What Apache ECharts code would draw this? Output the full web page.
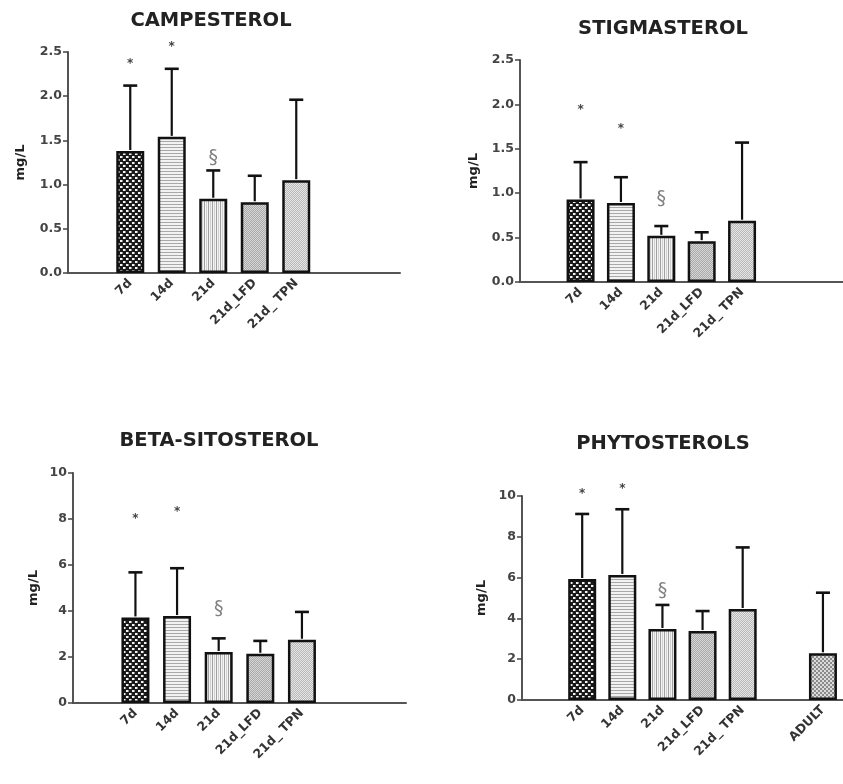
<!DOCTYPE html>
<html><head><meta charset="utf-8">
<script src="https://cdn.jsdelivr.net/npm/echarts@6/dist/echarts.min.js"></script>
<style>html,body{margin:0;padding:0;background:#fff}#c{width:843px;height:784px}</style>
</head><body><div id="c"></div>
<script>
// ---- data ----
const categories = ['', '7d', '14d', '21d', '21d_LFD', '21d_ TPN', '', ''];
const categoriesPhyto = ['', '7d', '14d', '21d', '21d_LFD', '21d_ TPN', '', 'ADULT'];
const titles = ['CAMPESTEROL', 'STIGMASTEROL', 'BETA-SITOSTEROL', 'PHYTOSTEROLS'];
const yName = 'mg/L';

const campMean = [null, 1.38, 1.54, 0.84, 0.80, 1.05, null, null];
const campErr  = [null, 2.12, 2.31, 1.16, 1.10, 1.96, null, null];
const campStar = [null, 2.37, 2.56, null, null, null, null, null];
const campSect = [null, null, null, 1.30, null, null, null, null];

const stigMean = [null, 0.93, 0.89, 0.52, 0.46, 0.69, null, null];
const stigErr  = [null, 1.35, 1.18, 0.63, 0.56, 1.57, null, null];
const stigStar = [null, 1.94, 1.72, null, null, null, null, null];
const stigSect = [null, null, null, 0.93, null, null, null, null];

const betaMean = [null, 3.72, 3.78, 2.22, 2.14, 2.75, null, null];
const betaErr  = [null, 5.68, 5.86, 2.81, 2.70, 3.96, null, null];
const betaStar = [null, 8.0, 8.3, null, null, null, null, null];
const betaSect = [null, null, null, 4.1, null, null, null, null];

const phytoMean = [null, 5.93, 6.13, 3.48, 3.38, 4.46, null, 2.29];
const phytoErr  = [null, 9.12, 9.35, 4.66, 4.36, 7.48, null, 5.26];
const phytoStar = [null, 10.1, 10.33, null, null, null, null, null];
const phytoSect = [null, null, null, 5.36, null, null, null, null];

// ---- patterns ----
function mk(w, h, draw) {
  const c = document.createElement('canvas'); c.width = w; c.height = h;
  const g = c.getContext('2d'); draw(g); return { image: c, repeat: 'repeat' };
}
const patDots = mk(6, 6, g => { g.fillStyle = '#1a1a1a'; g.fillRect(0,0,6,6); g.fillStyle = '#f4f4f4'; g.fillRect(0,0,2,2); g.fillRect(3,3,2,2); g.fillStyle='#888'; g.fillRect(2,0,1,2); g.fillRect(5,3,1,2); });
const patH = mk(3, 3, g => { g.fillStyle = '#f2f2f2'; g.fillRect(0,0,3,3); g.fillStyle = '#a8a8a8'; g.fillRect(0,0,3,1); });
const patV = mk(4, 4, g => { g.fillStyle = '#f4f4f4'; g.fillRect(0,0,4,4); g.fillStyle = '#a0a0a0'; g.fillRect(0,0,1,4); g.fillStyle = '#d0d0d0'; g.fillRect(2,0,1,4); });
const patLFD = mk(2, 2, g => { g.fillStyle = '#a9a9a9'; g.fillRect(0,0,2,2); g.fillStyle = '#d6d6d6'; g.fillRect(0,0,1,1); g.fillRect(1,1,1,1); });
const patTPN = mk(2, 2, g => { g.fillStyle = '#b8b8b8'; g.fillRect(0,0,2,2); g.fillStyle = '#e6e6e6'; g.fillRect(0,0,1,1); g.fillRect(1,1,1,1); });
const patAdult = mk(4, 4, g => { g.fillStyle = '#dcdcdc'; g.fillRect(0,0,4,4); g.fillStyle = '#8a8a8a'; g.fillRect(0,0,2,2); g.fillRect(2,2,2,2); });
const patterns = [null, patDots, patH, patV, patLFD, patTPN, null, patAdult];

// ---- layout ----
const grids = [
  { left: 68, right: 443, top: 52, bottom: 511 },
  { left: 520, right: -7, top: 60, bottom: 502 },
  { left: 73, right: 437, top: 473, bottom: 81 },
  { left: 522, right: -7, top: 496, bottom: 84 }
];
const titlePos = [[206, 6], [658, 14], [214, 426], [658, 429]];
const yMax = [2.5, 2.5, 10, 10];
const yInt = [0.5, 0.5, 2, 2];
const nameGaps = [41, 40, 33, 34];
const panels = [
  [campMean, campErr, campStar, campSect, categories],
  [stigMean, stigErr, stigStar, stigSect, categories],
  [betaMean, betaErr, betaStar, betaSect, categories],
  [phytoMean, phytoErr, phytoStar, phytoSect, categoriesPhyto]
];

const FONT = 'DejaVu Sans';
const axisCol = '#555';
const xAxes = [], yAxes = [], series = [];

panels.forEach((p, i) => {
  const [mean, err, star, sect, cats] = p;
  xAxes.push({
    type: 'category', gridIndex: i, data: cats, boundaryGap: true,
    axisLine: { lineStyle: { color: axisCol, width: 2 } },
    axisTick: { alignWithLabel: true, interval: 0, length: 5, lineStyle: { color: '#333', width: 1.5 } },
    axisLabel: { interval: 0, rotate: 45, margin: 8, fontFamily: FONT, fontWeight: 'bold', fontSize: 12.5, color: '#333' },
    splitLine: { show: false }
  });
  yAxes.push({
    type: 'value', gridIndex: i, min: 0, max: yMax[i], interval: yInt[i],
    name: yName, nameLocation: 'middle', nameGap: nameGaps[i],
    nameTextStyle: { fontFamily: FONT, fontWeight: 'bold', fontSize: 13, color: '#222' },
    axisLine: { show: true, lineStyle: { color: axisCol, width: 2 } },
    axisTick: { show: true, length: 5, lineStyle: { color: '#444', width: 1.5 } },
    axisLabel: { margin: 6, fontFamily: FONT, fontWeight: 'bold', fontSize: 12.5, color: '#444',
      formatter: v => yInt[i] < 1 ? v.toFixed(1) : String(v) },
    splitLine: { show: false }
  });
  series.push({
    type: 'bar', xAxisIndex: i, yAxisIndex: i, barWidth: 28,
    data: mean.map((v, k) => v == null ? '-' : { value: v, itemStyle: { color: patterns[k], borderColor: '#111', borderWidth: 2.5 } }),
    silent: true, animation: false
  });
  series.push({
    type: 'custom', xAxisIndex: i, yAxisIndex: i, animation: false, silent: true, clip: false, z: 3,
    data: mean.map((v, k) => v == null ? [k, '-', '-'] : [k, v, err[k]]),
    renderItem: (params, api) => {
      const k = api.value(0), m = api.value(1), u = api.value(2);
      if (isNaN(m)) return;
      const a = api.coord([k, m]), b = api.coord([k, u]);
      const style = { stroke: '#111', lineWidth: 2.2 };
      return { type: 'group', children: [
        { type: 'line', shape: { x1: a[0], y1: a[1] - 1, x2: b[0], y2: b[1] }, style },
        { type: 'line', shape: { x1: b[0] - 7, y1: b[1], x2: b[0] + 7, y2: b[1] }, style: { stroke: '#111', lineWidth: 2.6 } }
      ]};
    }
  });
  [[star, '*', 12, '#444', 'bold'], [sect, '§', 19, '#808080', 'normal']].forEach(([arr, sym, fs, col, fw]) => {
    series.push({
      type: 'custom', xAxisIndex: i, yAxisIndex: i, animation: false, silent: true, clip: false, z: 4,
      data: arr.map((v, k) => [k, v == null ? '-' : v]),
      renderItem: (params, api) => {
        const v = api.value(1);
        if (isNaN(v)) return;
        const c = api.coord([api.value(0), v]);
        return { type: 'text', x: c[0], y: c[1], style: { text: sym, fontSize: fs, fontFamily: FONT, fontWeight: fw, fill: col, align: 'center', verticalAlign: 'middle' } };
      }
    });
  });
});

const chart = echarts.init(document.getElementById('c'), null, { renderer: 'canvas' });
chart.setOption({
  backgroundColor: '#fff',
  animation: false,
  title: titles.map((t, i) => ({ text: t, left: titlePos[i][0], top: titlePos[i][1], textAlign: 'center',
    textStyle: { fontFamily: FONT, fontWeight: 'bold', fontSize: 19.5, color: '#222' } })),
  grid: grids,
  xAxis: xAxes,
  yAxis: yAxes,
  series
});
</script></body></html>
